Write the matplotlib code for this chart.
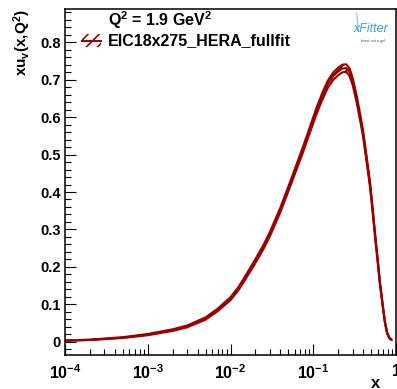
import numpy as np
import matplotlib
matplotlib.use("Agg")
import matplotlib.pyplot as plt
from matplotlib.ticker import FixedLocator, LogLocator, MultipleLocator, FuncFormatter, NullFormatter
from matplotlib.patches import Rectangle
from matplotlib.lines import Line2D

''' xu_v at Q^2 = 1.9 GeV^2 '''
xVals = [1e-4, 2e-4, 5e-4, 1e-3, 2e-3, 3e-3, 5e-3, 7e-3, 0.01, 0.0125,
         0.015, 0.019, 0.025, 0.03, 0.04, 0.05, 0.06, 0.075, 0.09, 0.11,
         0.13, 0.15, 0.175, 0.2, 0.225, 0.25, 0.275, 0.3, 0.335, 0.37,
         0.40, 0.44, 0.484, 0.52, 0.556, 0.6, 0.64, 0.69, 0.735, 0.78,
         0.83, 0.885]
xuv = [0.003, 0.005, 0.011, 0.019, 0.031, 0.041, 0.062, 0.085, 0.115, 0.142,
       0.170, 0.207, 0.253, 0.288, 0.352, 0.408, 0.455, 0.513, 0.563, 0.618,
       0.658, 0.688, 0.71, 0.722, 0.73, 0.731, 0.72, 0.695, 0.648, 0.598,
       0.556, 0.49, 0.422, 0.356, 0.289, 0.218, 0.156, 0.098, 0.052, 0.024,
       0.010, 0.005]
# relative half-width of the uncertainty band
relErr = [0.12, 0.11, 0.10, 0.09, 0.07, 0.06, 0.05, 0.04, 0.035, 0.03,
          0.028, 0.025, 0.022, 0.02, 0.018, 0.016, 0.015, 0.015, 0.014, 0.014,
          0.014, 0.014, 0.014, 0.014, 0.014, 0.014, 0.014, 0.014, 0.014, 0.015,
          0.015, 0.016, 0.017, 0.018, 0.02, 0.022, 0.025, 0.03, 0.04, 0.06,
          0.1, 0.12]

qLabel = r'Q$^{2}$ = 1.9 GeV$^{2}$'
fitLabel = 'EIC18x275_HERA_fullfit'
red = '#990000'

W, H = 397, 389
plt.rcParams['font.family'] = 'Liberation Sans'
plt.rcParams['font.weight'] = 'bold'
plt.rcParams['mathtext.fontset'] = 'custom'
plt.rcParams['mathtext.rm'] = 'Liberation Sans:bold'
plt.rcParams['mathtext.bf'] = 'Liberation Sans:bold'
plt.rcParams['mathtext.it'] = 'Liberation Sans:bold'
plt.rcParams['hatch.linewidth'] = 1.2


def px(x, y):
	return (x / W, 1 - y / H)


def logLabel(v, pos):
	e = int(round(np.log10(v)))
	if e == 0:
		return r'$\mathbf{1}$'
	return r'$\mathbf{10^{%d}}$' % e


fig = plt.figure(figsize=(W / 100, H / 100), dpi=100)
ax = fig.add_axes([65 / W, 1 - 355 / H, 331 / W, 346 / H])

x = np.array(xVals)
y = np.array(xuv)
err = np.array(relErr) * y
ax.fill_between(x, y - err, y + err, facecolor='none', edgecolor=red, hatch='////', lw=0)
for curve in (y - err, y, y + err):
	ax.plot(x, curve, color=red, lw=1.5, solid_capstyle='round', solid_joinstyle='round')

ax.set_xscale('log')
ax.set_xlim(1e-4, 1)
ax.set_ylim(-0.0355, 0.889)

ax.xaxis.set_major_locator(FixedLocator([1e-4, 1e-3, 1e-2, 1e-1, 1]))
ax.xaxis.set_minor_locator(LogLocator(base=10, subs=np.arange(2, 10)))
ax.xaxis.set_major_formatter(FuncFormatter(logLabel))
ax.xaxis.set_minor_formatter(NullFormatter())
ax.yaxis.set_major_locator(MultipleLocator(0.1))
ax.yaxis.set_minor_locator(MultipleLocator(0.02))
ax.yaxis.set_major_formatter(FuncFormatter(lambda v, p: '0' if abs(v) < 1e-9 else '%.1f' % v))

ax.tick_params(which='both', direction='in', top=False, right=False, width=0.8)
ax.tick_params(which='major', length=8)
ax.tick_params(which='minor', length=4)
ax.tick_params(axis='x', pad=6, labelsize=11.5)
ax.tick_params(axis='y', pad=3, labelsize=10.5)
for s in ax.spines.values():
	s.set_linewidth(1.1)

# axis titles
fig.text(*px(22, 9), r'$\mathbf{xu_{v}(x{,}Q^{2})}$', rotation=90, ha='center', va='top', fontsize=11)
fig.text(*px(376, 383), 'x', ha='center', va='center', fontsize=12, fontweight='bold')

# header text and legend entry
fig.text(*px(108, 26), qLabel, ha='left', va='baseline', fontsize=11.5, fontweight='bold')
fig.text(*px(108, 45), fitLabel, ha='left', va='baseline', fontsize=11.5, fontweight='bold')
x0, y0 = px(82, 47)
x1, y1 = px(101, 34)
fig.patches.append(Rectangle((x0, y0), x1 - x0, y1 - y0, transform=fig.transFigure,
                             facecolor='none', edgecolor=red, hatch='///', lw=0))
fig.lines.append(Line2D([x0, x1], [px(0, 41)[1]] * 2, transform=fig.transFigure, color=red, lw=1.4))

# xFitter logo
fig.lines.append(Line2D([px(357, 14)[0], px(358, 31)[0]], [px(357, 14)[1], px(358, 31)[1]],
                        transform=fig.transFigure, color='#7cc4ea', lw=0.8))
fig.text(*px(356, 14), '•', color='#f0c030', fontsize=4, ha='center', va='center')
fig.text(*px(371, 29), 'xFitter', color='#3aa0dc', fontsize=9, style='italic',
         fontweight='normal', ha='center', va='center')
fig.text(*px(373, 41), 'feast not a girl', color='#555555', fontsize=2.8,
         fontweight='normal', ha='center', va='center')

fig.savefig('out.png', dpi=100)
